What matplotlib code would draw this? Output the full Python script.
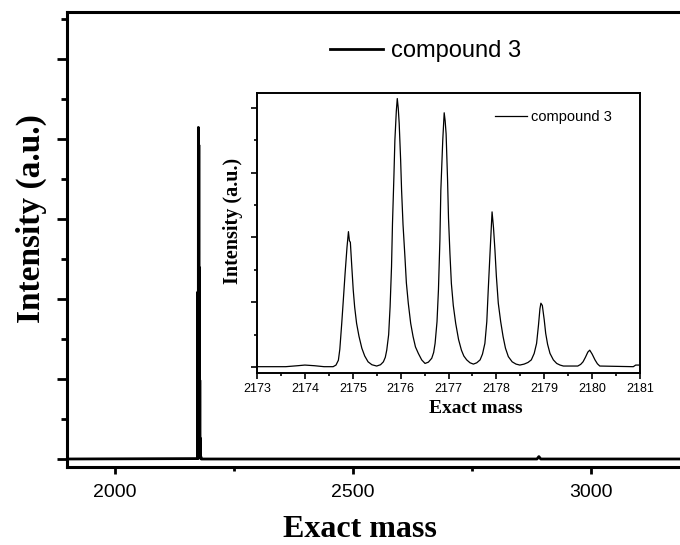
import matplotlib
matplotlib.use("Agg")
import matplotlib.pyplot as plt
from matplotlib.ticker import MultipleLocator, NullFormatter

# isotope pattern of compound 3 (mass, intensity in tick units)
mass = [2173.0, 2173.6, 2173.85, 2174.0, 2174.2, 2174.4,
        2174.59, 2174.65, 2174.70, 2174.73, 2174.77, 2174.80, 2174.84, 2174.88, 2174.91, 2174.93,
        2174.95, 2174.98, 2175.01, 2175.04, 2175.08, 2175.13, 2175.19, 2175.25, 2175.32, 2175.40,
        2175.50, 2175.58, 2175.64, 2175.68, 2175.71, 2175.75, 2175.78, 2175.81, 2175.83, 2175.86,
        2175.88, 2175.91, 2175.93, 2175.95, 2175.97, 2176.00, 2176.02, 2176.05, 2176.09, 2176.12,
        2176.16, 2176.21, 2176.26, 2176.31, 2176.37, 2176.44, 2176.51, 2176.58, 2176.65, 2176.69,
        2176.72, 2176.76, 2176.79, 2176.82, 2176.84, 2176.88, 2176.91, 2176.93, 2176.95, 2176.98,
        2177.00, 2177.03, 2177.06, 2177.10, 2177.15, 2177.21, 2177.27, 2177.32, 2177.38, 2177.45,
        2177.52, 2177.59, 2177.66, 2177.71, 2177.76, 2177.80, 2177.83, 2177.87, 2177.91, 2177.94,
        2177.97, 2178.00, 2178.04, 2178.09, 2178.14, 2178.19, 2178.25, 2178.33, 2178.41, 2178.49,
        2178.58, 2178.66, 2178.73, 2178.79, 2178.84, 2178.88, 2178.91, 2178.93, 2178.96, 2179.00,
        2179.03, 2179.07, 2179.12, 2179.19, 2179.26, 2179.33, 2179.40, 2179.70, 2179.76, 2179.81,
        2179.86, 2179.91, 2179.95, 2180.00, 2180.06, 2180.11, 2180.16, 2180.86, 2180.91, 2181.0]
intensity = [0.01, 0.01, 0.04, 0.06, 0.04, 0.01,
             0.01, 0.06, 0.21, 0.55, 1.35, 2.0, 2.89, 3.7, 4.18, 3.9,
             3.85, 3.1, 2.38, 1.85, 1.35, 0.95, 0.58, 0.34, 0.16, 0.07,
             0.03, 0.07, 0.16, 0.30, 0.52, 1.0, 1.86, 3.1, 4.43, 5.9,
             7.0, 7.9, 8.29, 8.0, 7.52, 6.4, 5.46, 4.4, 3.40, 2.6,
             1.97, 1.35, 0.94, 0.62, 0.42, 0.22, 0.11, 0.15, 0.27, 0.45,
             0.73, 1.4, 2.38, 3.9, 5.46, 7.0, 7.85, 7.6, 7.2, 5.8,
             4.6, 3.5, 2.58, 1.9, 1.35, 0.85, 0.52, 0.34, 0.22, 0.13,
             0.09, 0.13, 0.22, 0.40, 0.73, 1.4, 2.38, 3.6, 4.79, 4.3,
             3.61, 2.8, 1.97, 1.4, 0.94, 0.58, 0.32, 0.16, 0.09, 0.06,
             0.09, 0.14, 0.22, 0.42, 0.73, 1.3, 1.8, 1.97, 1.90, 1.45,
             1.04, 0.70, 0.42, 0.22, 0.11, 0.06, 0.03, 0.03, 0.08, 0.16,
             0.30, 0.46, 0.52, 0.40, 0.22, 0.10, 0.03, 0.01, 0.06, 0.06]

# full range spectrum: flat baseline plus a tiny bump near 2890
wide_mass_lo = [1900.0]
wide_int_lo = [0.0]
wide_mass_hi = [2182.0, 2887.0, 2891.0, 2895.0, 3200.0]
wide_int_hi = [0.0, 0.0, 0.06, 0.0, 0.0]

full_mass = wide_mass_lo + mass + wide_mass_hi
full_int = wide_int_lo + intensity + wide_int_hi

label = "compound 3"
sans = "Liberation Sans"
serif = "Liberation Serif"

fig = plt.figure(figsize=(6.8, 5.45), dpi=100)

# main axes
ax = fig.add_axes([67/680, 1-467/545, 619/680, 455/545])
ax.plot(full_mass, full_int, color="black", lw=2.0, label=label)
ax.set_xlim(1900, 3200)
ax.set_ylim(-0.2, 11.175)
ax.xaxis.set_major_locator(MultipleLocator(500))
ax.xaxis.set_minor_locator(MultipleLocator(250))
ax.yaxis.set_major_locator(MultipleLocator(2))
ax.yaxis.set_minor_locator(MultipleLocator(1))
ax.yaxis.set_major_formatter(NullFormatter())
for s in ax.spines.values():
    s.set_linewidth(2.2)
ax.tick_params(axis="x", which="major", direction="out", length=5, width=2, pad=7,
               labelsize=14, top=False)
ax.tick_params(axis="x", which="minor", direction="out", length=3, width=2, top=False)
ax.tick_params(axis="y", which="major", direction="out", length=7, width=2, right=False)
ax.tick_params(axis="y", which="minor", direction="out", length=4, width=2, right=False)
for t in ax.get_xticklabels():
    t.set_fontfamily(sans)
ax.set_xlabel("Exact mass", fontfamily=serif, fontweight="bold", fontsize=23)
ax.set_ylabel("Intensity (a.u.)", fontfamily=serif, fontweight="bold", fontsize=24)
ax.xaxis.set_label_coords(0.4725, -0.105)
ax.yaxis.set_label_coords(-0.032, 0.545)
ax.legend(loc="center left", bbox_to_anchor=(330/680, 1-51/545), bbox_transform=fig.transFigure,
          frameon=False, borderpad=0, borderaxespad=0, handlelength=2.25, handletextpad=0.35,
          prop={"family": sans, "size": 17})

# inset
ins = fig.add_axes([257/680, 1-373/545, 383/680, 280.3/545])
ins.plot(mass, intensity, color="black", lw=0.9, label=label)
ins.set_xlim(2173, 2181)
ins.set_ylim(-0.185, 8.47)
ins.xaxis.set_major_locator(MultipleLocator(1))
ins.xaxis.set_minor_locator(MultipleLocator(0.5))
ins.yaxis.set_major_locator(MultipleLocator(2))
ins.yaxis.set_minor_locator(MultipleLocator(1))
ins.yaxis.set_major_formatter(NullFormatter())
ins.ticklabel_format(axis="x", useOffset=False)
for s in ins.spines.values():
    s.set_linewidth(1.4)
ins.tick_params(axis="both", which="major", direction="out", length=4, width=1.2, pad=3,
                labelsize=9, top=False, right=False)
ins.tick_params(axis="both", which="minor", direction="out", length=2.5, width=1.2,
                top=False, right=False)
for t in ins.get_xticklabels():
    t.set_fontfamily(sans)
ins.set_xlabel("Exact mass", fontfamily=serif, fontweight="bold", fontsize=14)
ins.set_ylabel("Intensity (a.u.)", fontfamily=serif, fontweight="bold", fontsize=14.5)
ins.xaxis.set_label_coords(0.572, -0.095)
ins.yaxis.set_label_coords(-0.037, 0.542)
ins.legend(loc="center left", bbox_to_anchor=(495/680, 1-117/545), bbox_transform=fig.transFigure,
           frameon=False, borderpad=0, borderaxespad=0, handlelength=2.2, handletextpad=0.3,
           prop={"family": sans, "size": 10.5})

fig.savefig("out.png", dpi=100)
